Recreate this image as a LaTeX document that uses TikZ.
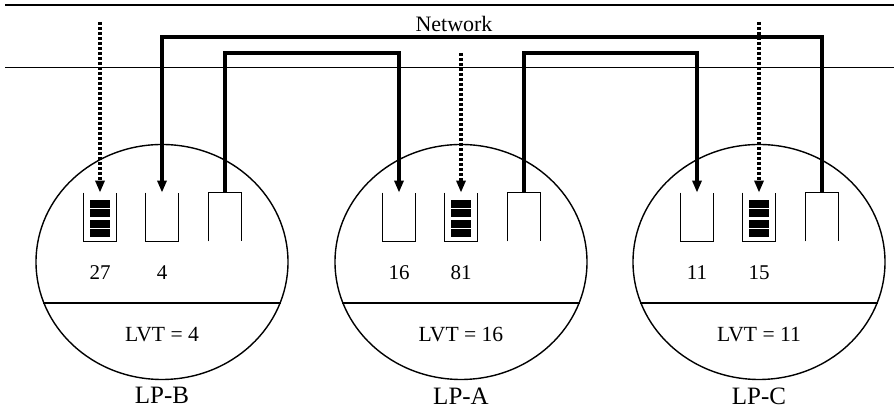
\documentclass[tikz,border=0pt]{standalone}
\usepackage{fontspec}
\setmainfont{Liberation Serif}
\usetikzlibrary{arrows.meta,positioning,shapes.geometric,calc}

\begin{document}
\begin{tikzpicture}[x=0.5pt,y=0.5pt,
  lp/.style={ellipse,draw,line width=0.7pt,minimum width=126pt,minimum height=117.5pt,inner sep=0},
  queue/.style={minimum width=16pt,minimum height=24pt,inner sep=0},
  qline/.style={line width=0.6pt},
  msg/.style={line width=1.6pt,-{Triangle[length=6pt,width=4.5pt]}},
  antimsg/.style={msg,dash pattern=on 1.5pt off 1pt},
  num/.style={font=\fontsize{10.5}{12}\selectfont,inner sep=0},
  lvt/.style={font=\fontsize{10.8}{12}\selectfont,inner sep=0},
  lpname/.style={font=\fontsize{12.5}{14}\selectfont,inner sep=0}]
\useasboundingbox (0,0) rectangle (894,410);
% network
\draw[line width=0.6pt] (5,405) -- (894,405);
\draw[line width=0.5pt] (5,342) -- (894,342);
\node[font=\fontsize{11}{12}\selectfont] (net) at (454,386) {Network};
\coordinate (r1) at (0,373);
\coordinate (r2) at (0,357);
\coordinate (top) at (0,388);
% logical processes
\foreach \p/\c/\t in {B/162/4,A/461/16,C/759/11} {
  \node[lp] (lp\p) at (\c,148) {};
  \draw[line width=0.7pt] (lp\p.199) -- (lp\p.341);
  \node[lvt] (lvt\p) at ($(lp\p.center)+(0,-73)$) {LVT = \t};
  \node[lpname,below=3.5pt of lp\p] (name\p) {LP-\p};
  \node[queue] (q\p1) at (\c-62,193) {};
  \node[queue] (q\p2) at (\c,193) {};
  \node[queue] (q\p3) at (\c+63,193) {};
}
% input queues and output queues
\foreach \q in {qB1,qB2,qA1,qA2,qC1,qC2}
  \draw[qline] (\q.north west) -- (\q.south west) -- (\q.south east) -- (\q.north east);
\foreach \q in {qB3,qA3,qC3}
  \draw[qline] (\q.south west) -- (\q.north west) -- (\q.north east) -- (\q.south east);
% queued anti-messages
\foreach \q in {qB1,qA2,qC2}
  \foreach \lo/\hi in {2/6,6.5/10.5,12/16,16.5/20.5}
    \fill ([shift={(3pt,\lo pt)}]\q.south west) rectangle ([shift={(-3pt,\hi pt)}]\q.south east);
% time stamps
\node[num,below=12pt of qB1] (nB1) {27};
\node[num,below=12pt of qB2] (nB2) {4};
\node[num,below=12pt of qA1] (nA1) {16};
\node[num,below=12pt of qA2] (nA2) {81};
\node[num,below=12pt of qC1] (nC1) {11};
\node[num,below=12pt of qC2] (nC2) {15};
% messages
\draw[msg] (qC3.north) -- (qC3.north |- r1) -| (qB2.north);
\draw[msg] (qB3.north) -- (qB3.north |- r2) -| (qA1.north);
\draw[msg] (qA3.north) -- (qA3.north |- r2) -| (qC1.north);
\draw[antimsg] (qB1.north |- top) -- (qB1.north);
\draw[antimsg] (qA2.north |- r2) -- (qA2.north);
\draw[antimsg] (qC2.north |- top) -- (qC2.north);
\end{tikzpicture}
\end{document}
